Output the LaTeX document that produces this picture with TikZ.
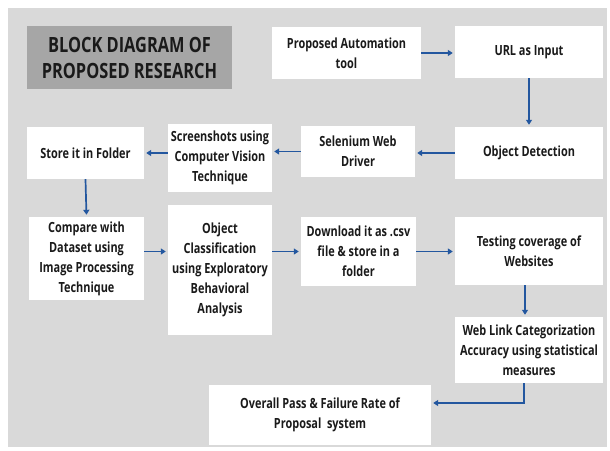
\documentclass[tikz,border=0pt]{standalone}
\usepackage{fontspec}
\setmainfont[FakeStretch=0.78]{Open Sans}
\usepackage{tikz}
\usetikzlibrary{arrows.meta}
\definecolor{bggrey}{HTML}{D9D9D9}
\definecolor{titlegrey}{HTML}{A6A6A6}
\definecolor{arrowblue}{HTML}{23579F}
\definecolor{textdark}{HTML}{1A1A1A}
\tikzset{
  blk/.style={fill=white, inner sep=0pt, align=center, text=textdark,
    font=\bfseries\fontsize{14}{20}\selectfont},
  flow/.style={draw=arrowblue, line width=1.7pt,
    -{Triangle[length=5pt,width=6pt]}, shorten >=2pt}
}

\begin{document}
\begin{tikzpicture}[x=1pt,y=-1pt]
    \useasboundingbox (0,0) rectangle (610,450);
    \fill[bggrey] (8,8) rectangle (607,447);
    \node[fill=titlegrey, text=textdark, align=center, minimum width=205pt, minimum height=63pt,
      font=\bfseries\fontsize{21}{26}\selectfont] (title) at (129.5,57.5) {BLOCK DIAGRAM OF\\PROPOSED RESEARCH};
    \node[blk, minimum width=149pt, minimum height=52pt] (auto) at (346.5,53) {Proposed Automation\\tool};
    \node[blk, minimum width=148pt, minimum height=52pt] (url) at (529,52) {URL as Input};
    \node[blk, minimum width=148pt, minimum height=52pt] (detect) at (529,153) {Object Detection};
    \node[blk, minimum width=114pt, minimum height=51pt] (selenium) at (358,151.5) {Selenium Web\\Driver};
    \node[blk, minimum width=104pt, minimum height=68pt] (shots) at (220,158) {Screenshots using\\Computer Vision\\Technique};
    \node[blk, minimum width=117pt, minimum height=52pt] (store) at (85.5,153) {Store it in Folder};
    \node[blk, minimum width=115pt, minimum height=83pt] (compare) at (86.5,258.5) {Compare with\\Dataset using\\Image Processing\\Technique};
    \node[blk, minimum width=104pt, minimum height=130pt] (classify) at (220,270) {Object\\Classification\\using Exploratory\\Behavioral\\Analysis};
    \node[blk, minimum width=115pt, minimum height=69pt] (download) at (358.5,251.5) {Download it as .csv\\file \& store in a\\folder};
    \node[blk, minimum width=148pt, minimum height=68pt] (testing) at (529,251) {Testing coverage of\\Websites};
    \node[blk, minimum width=148pt, minimum height=66pt] (weblink) at (529,350) {Web Link Categorization\\Accuracy using statistical\\measures};
    \node[blk, minimum width=222pt, minimum height=60pt] (overall) at (320,415) {Overall Pass \& Failure Rate of\\Proposal~~system};
    \draw[flow] (auto.east) -- (auto.east -| url.west);
    \draw[flow] (url.south) -- (detect.north);
    \draw[flow] (detect.west) -- (detect.west -| selenium.east);
    \draw[flow] (selenium.west) -- (selenium.west -| shots.east);
    \draw[flow] (shots.west |- store.east) -- (store.east);
    \draw[flow] (store.south) -- (compare.north);
    \draw[flow] (compare.east |- download.west) -- (classify.west |- download.west);
    \draw[flow] (classify.east |- download.west) -- (download.west);
    \draw[flow] (download.east) -- (download.east -| testing.west);
    \draw[flow] ([xshift=-4pt]testing.south) -- ([xshift=-4pt]weblink.north);
    \draw[flow] ([xshift=-5pt]weblink.south) |- ([yshift=12pt]overall.east);
\end{tikzpicture}
\end{document}
